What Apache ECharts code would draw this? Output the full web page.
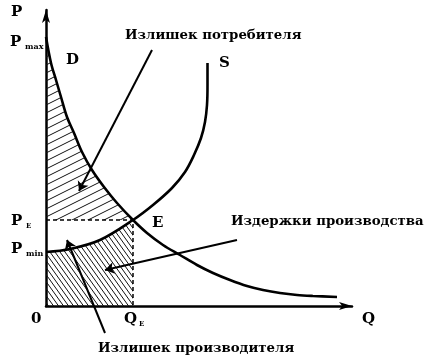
<!DOCTYPE html>
<html><head><meta charset="utf-8">
<script src="https://cdn.jsdelivr.net/npm/echarts@6/dist/echarts.min.js"></script>
<style>html,body{margin:0;padding:0;background:#fff}#c{width:430px;height:360px}</style>
</head><body><div id="c"></div>
<script>
// Demand curve D (Q, P)
const dQ = [0, 5, 10, 15, 21, 28, 36, 46, 58, 71, 87, 101, 117, 134, 151, 167, 184, 201, 217, 234, 251, 267, 291];
const dP = [269, 243, 226, 209, 189, 173, 154, 136, 119, 103, 86, 73, 61, 51, 41, 33, 26, 20, 16, 13, 11, 10, 9];
// Supply curve S (Q, P)
const sQ = [0, 24, 54, 87, 107, 126, 139, 148, 155, 159, 161, 161.5, 161.5];
const sP = [54, 57, 66, 86, 101, 118, 134, 151, 168, 184, 201, 221, 243];
// Equilibrium
const QE = 87, PE = 86;
// Annotation arrows [tail, head]
const arrows = [
  [[106, 256], [33, 115]],
  [[191, 66], [59, 36]],
  [[59, -27], [21, 66]]
];

function pattern(w, h, dir, lw) {
  const c = document.createElement('canvas');
  c.width = w; c.height = h;
  const g = c.getContext('2d');
  g.strokeStyle = '#111'; g.lineWidth = lw;
  for (let dx = -w; dx <= w; dx += w) for (let dy = -h; dy <= h; dy += h) {
    g.beginPath();
    if (dir === '/') { g.moveTo(dx, h + dy); g.lineTo(w + dx, dy); }
    else { g.moveTo(dx, dy); g.lineTo(w + dx, h + dy); }
    g.stroke();
  }
  return { image: c, repeat: 'repeat' };
}
const patCS = pattern(16, 8, '/', 1);
const patPC = pattern(5, 7, '\\', 1);

const pts = (qs, ps, maxQ) => qs.map((q, i) => [q, ps[i]]).filter(p => maxQ === undefined || p[0] <= maxQ);

const FONT = '"DejaVu Serif", "Liberation Serif", serif';
function txt(x, y, s, size, align) {
  return { type: 'text', x: x, y: y, style: { text: s, font: 'bold ' + size + 'px ' + FONT, fill: '#000', textAlign: align || 'left', textVerticalAlign: 'middle' } };
}

const chart = echarts.init(document.getElementById('c'), null, { renderer: 'canvas' });
const axisCommon = {
  type: 'value', min: 0,
  axisLabel: { show: false }, axisTick: { show: false }, splitLine: { show: false },
  axisLine: { show: true, onZero: false, symbol: ['none', 'arrow'], symbolSize: [6, 13], lineStyle: { color: '#000', width: 2.5 } }
};
const SM = 0.35;
chart.setOption({
  animation: false,
  backgroundColor: '#fff',
  grid: { left: 46, top: 10, right: 78, bottom: 54 },
  xAxis: Object.assign({}, axisCommon, { max: 306 }),
  yAxis: Object.assign({}, axisCommon, { max: 296 }),
  series: [
    { type: 'line', data: pts(dQ, dP, QE), smooth: SM, showSymbol: false, lineStyle: { width: 0 },
      areaStyle: { color: patCS, opacity: 1, origin: PE }, z: 1 },
    { type: 'line', data: pts(sQ, sP, QE), smooth: SM, showSymbol: false, lineStyle: { width: 0 },
      areaStyle: { color: patPC, opacity: 1, origin: 0 }, z: 1 },
    { type: 'line', data: [[0, PE], [QE, PE], [QE, 0]], showSymbol: false,
      lineStyle: { color: '#000', width: 1.5, type: [4, 3] }, z: 3 },
    { type: 'line', data: pts(dQ, dP), smooth: SM, showSymbol: false, lineStyle: { color: '#000', width: 2.6 }, z: 4 },
    { type: 'line', data: pts(sQ, sP), smooth: SM, showSymbol: false, lineStyle: { color: '#000', width: 2.6 }, z: 4 },
    { type: 'lines', coordinateSystem: 'cartesian2d', clip: false, symbol: ['none', 'arrow'], symbolSize: 9,
      lineStyle: { color: '#000', width: 2, opacity: 1 },
      data: arrows.map(a => ({ coords: a })), z: 5 }
  ],
  graphic: [
    txt(11, 12, 'P', 15),
    txt(10, 42, 'P', 15), txt(25, 47, 'max', 8),
    txt(66, 60, 'D', 15),
    txt(219, 63, 'S', 15),
    txt(125, 36, 'Излишек потребителя', 13.3),
    txt(11, 221, 'P', 15), txt(26, 226, 'E', 7),
    txt(152, 223, 'E', 15),
    txt(231, 222, 'Издержки производства', 13.3),
    txt(11, 249, 'P', 15), txt(26, 254, 'min', 8),
    txt(31, 319, '0', 15),
    txt(124, 319, 'Q', 15), txt(139, 324, 'E', 7),
    txt(362, 319, 'Q', 15),
    txt(98, 349, 'Излишек производителя', 13.3)
  ]
});
</script></body></html>
